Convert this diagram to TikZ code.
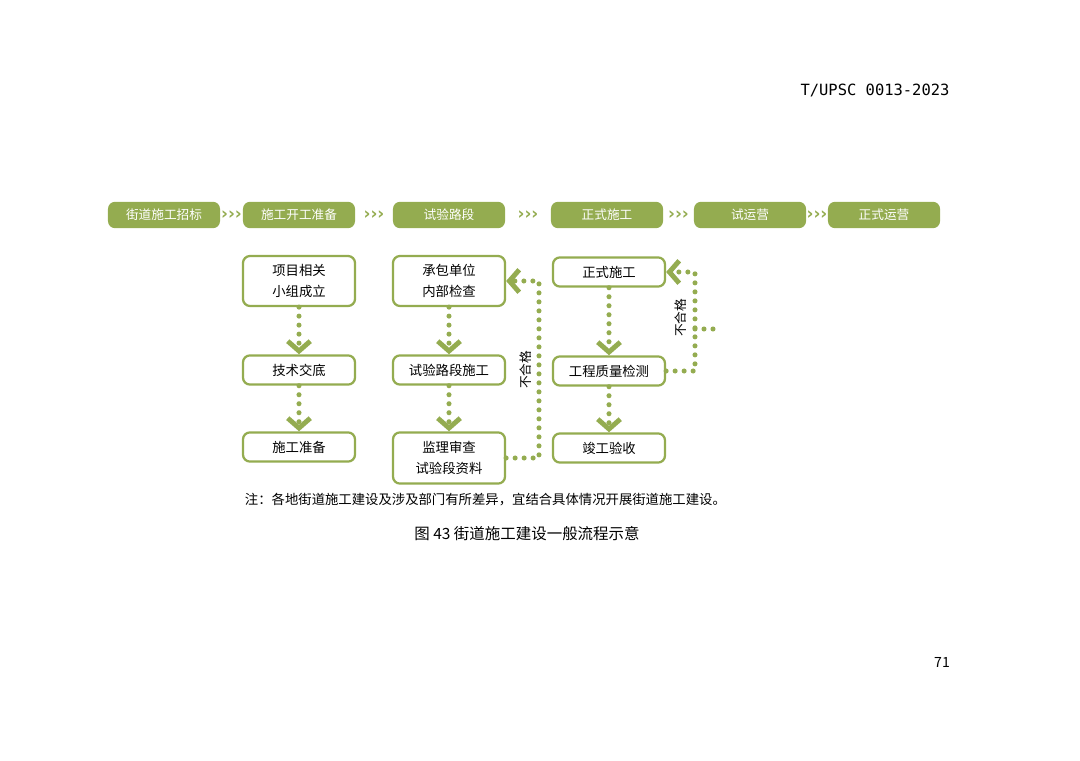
\documentclass[tikz,border=0pt]{standalone}
\usepackage{fontspec}
\setmainfont{Noto Sans CJK SC}
\newfontfamily\monofont{DejaVu Sans Mono}
\newfontfamily\symfont{DejaVu Sans}
\usetikzlibrary{positioning, calc, arrows.meta}
\definecolor{stepGreen}{HTML}{94AC50}
\tikzset{
StepHead/.style={
  fill=stepGreen, text=white, rounded corners=5pt,
  minimum width=2.8cm, minimum height=0.66cm,
  font=\fontsize{9}{10}\selectfont, inner sep=0pt
  },
StepBox/.style={
  draw=stepGreen, line width=1.6pt, fill=white, rounded corners=5pt,
  minimum width=2.8cm, align=center, inner sep=0pt,
  font=\fontsize{9.5}{15}\selectfont
  },
DotLine/.style={
  stepGreen, line width=3.6pt, line cap=round,
  dash pattern=on 0pt off 6.4pt
  },
DotArrow/.style={
  DotLine, -{Straight Barb[length=7pt, width=16pt, line width=3.5pt]}
  },
Chevs/.style={
  text=stepGreen, font=\symfont\fontsize{12}{12}\selectfont\bfseries, inner sep=0pt
  }
}
\begin{document}
\begin{tikzpicture}[x=0.025cm, y=0.025cm]
    \useasboundingbox (0,0) rectangle (1080,-761);

    % header and page number
    \node[font=\monofont\fontsize{11}{12}\selectfont] (hdr) at (875,-90) {T/UPSC 0013-2023};
    \node[font=\fontsize{10}{12}\selectfont] (page) at (942,-662) {71};

    % main stages
    \node[StepHead] (s1) at (164,-215) {街道施工招标};
    \node[StepHead] (s2) at (299,-215) {施工开工准备};
    \node[StepHead] (s3) at (449,-215) {试验路段};
    \node[StepHead] (s4) at (607,-215) {正式施工};
    \node[StepHead] (s5) at (750,-215) {试运营};
    \node[StepHead] (s6) at (884,-215) {正式运营};
    \foreach \a/\b in {s1/s2, s2/s3, s3/s4, s4/s5, s5/s6}
        \path (\a.east) -- (\b.west) node[midway, Chevs] {›››};

    % preparation
    \node[StepBox, minimum height=1.25cm] (p1) at (299,-281) {项目相关\\小组成立};
    \node[StepBox, minimum height=0.73cm] (p2) at (299,-370) {技术交底};
    \node[StepBox, minimum height=0.73cm] (p3) at (299,-447) {施工准备};
    \draw[DotArrow] (p1.south) -- (p2.north);
    \draw[DotArrow] (p2.south) -- (p3.north);

    % test section
    \node[StepBox, minimum height=1.25cm] (t1) at (449,-281) {承包单位\\内部检查};
    \node[StepBox, minimum height=0.73cm] (t2) at (449,-370) {试验路段施工};
    \node[StepBox, minimum height=1.28cm] (t3) at (449,-458) {监理审查\\试验段资料};
    \draw[DotArrow] (t1.south) -- (t2.north);
    \draw[DotArrow] (t2.south) -- (t3.north);
    \coordinate (f2) at (539,-370);
    \draw[DotArrow] (t3.east) -| (f2) |- (t1.east);
    \node[rotate=90, font=\fontsize{9}{10}\selectfont] (n2) at (526,-370) {不合格};

    % construction
    \node[StepBox, minimum height=0.73cm] (c1) at (609,-272) {正式施工};
    \node[StepBox, minimum height=0.73cm] (c2) at (609,-371) {工程质量检测};
    \node[StepBox, minimum height=0.73cm] (c3) at (609,-448) {竣工验收};
    \draw[DotArrow] (c1.south) -- (c2.north);
    \draw[DotArrow] (c2.south) -- (c3.north);
    \coordinate (f3) at (695,-329);
    \draw[DotArrow] (c2.east) -| (f3) |- (c1.east);
    \draw[DotLine] (f3) -- ++(24,0);
    \node[rotate=90, font=\fontsize{9}{10}\selectfont] (n3) at (681,-318) {不合格};

    % note and caption
    \node[anchor=west, font=\fontsize{9.5}{11}\selectfont] (note) at (240,-500)
        {注：各地街道施工建设及涉及部门有所差异，宜结合具体情况开展街道施工建设。};
    \node[font=\fontsize{11}{13}\selectfont] (cap) at (527,-534)
        {图 43 街道施工建设一般流程示意};
\end{tikzpicture}
\end{document}
